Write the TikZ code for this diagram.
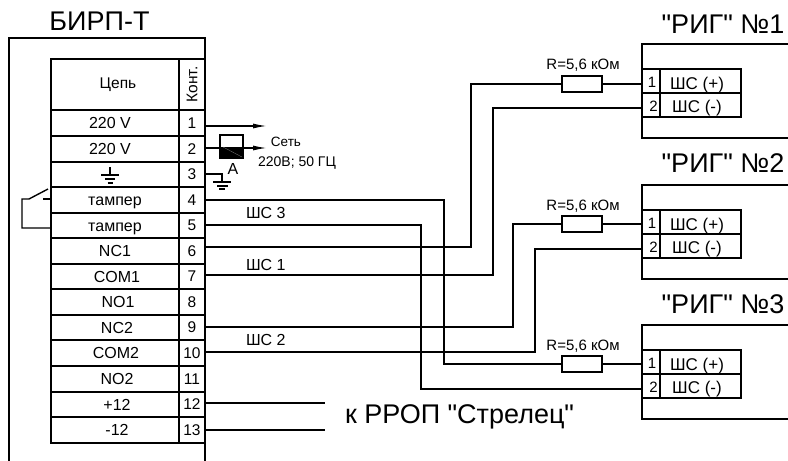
\documentclass[tikz,border=0pt]{standalone}
\usepackage{fontspec}
\setmainfont[Ligatures=TeXOff]{Liberation Sans}
\usetikzlibrary{arrows.meta}
\newcommand{\fs}[1]{\fontsize{#1}{#1}\selectfont}
\tikzset{
  x=1pt,y=-1pt,
  wire/.style={draw=black,line width=1.4pt,line join=miter},
  frame/.style={draw=black,line width=1.5pt},
  tbl/.style={draw=black,line width=1.9pt,inner sep=0pt,outer sep=0pt},
  txt/.style={inner sep=0pt,outer sep=0pt,text=black,anchor=base},
  rowbox/.style={tbl,minimum width=128pt,minimum height=25.6pt},
  pinbox/.style={tbl,minimum width=26pt,minimum height=25.6pt,font=\fs{15.5}},
  resistor/.style={draw=black,line width=1.6pt,fill=white,minimum width=40pt,minimum height=16pt,inner sep=0pt,outer sep=0pt},
  rigcell/.style={draw=black,line width=1.7pt,inner sep=0pt,outer sep=0pt,minimum height=24pt},
  title/.style={txt,font=\fs{27}},
  small/.style={txt,font=\fs{15}},
  arrowwire/.style={wire,-{Latex[length=14pt,width=5pt]}},
}
\begin{document}
\begin{tikzpicture}
\useasboundingbox (0,0) rectangle (788,461);
% outer block
\draw[frame] (9,461) -- (9,38) -- (205,38) -- (205,461);
\node[title] (tb) at (99.5,30) {БИРП-Т};
% table header
\node[tbl,minimum width=128pt,minimum height=51pt] (hc) at (115,84.5) {};
\node[txt,font=\fs{15.5}] (hct) at (118,88) {Цепь};
\node[tbl,minimum width=26pt,minimum height=51pt] (hk) at (192,84.5) {\rotatebox{90}{\fs{15.5}Конт.}};
% rows
\foreach \n/\y/\t/\lx in {1/123/220 V/110,2/149/220 V/110,3/174.5//110,4/200/тампер/115,5/225.5/тампер/115,6/251/NC1/115,7/276.5/COM1/117,8/302/NO1/118,9/327.5/NC2/117,10/353/COM2/116,11/379/NO2/117,12/404.5/+12/117,13/430/-12/117}{
  \node[rowbox] (r\n) at (115,\y) {};
  \node[pinbox] (p\n) at (192,\y) {\n};
  \node[txt,font=\fs{16}] (l\n) at (\lx,\y+5.5) {\t};
}
% ground in row 3
\coordinate (g0) at (110,167);
\coordinate (g1) at (110,175);
\draw[wire] (g0) -- (g1);
\draw[wire] (101,175) -- (119,175);
\draw[wire,line width=1.6pt] (105,179) -- (115,179);
\draw[wire,line width=1.6pt] (107.5,183) -- (112.5,183);
% tamper
\coordinate (t4) at (51,199);
\coordinate (t5) at (51,228);
\coordinate (sw) at (29,199);
\draw[wire] (t4) -- (43,199);
\draw[wire] (48,189) -- (sw) -- (22,199) -- (22,228) -- (t5);
% mains
\coordinate (w1) at (205,126);
\coordinate (w2) at (205,148);
\coordinate (w3) at (205,174);
\coordinate (e1) at (267,126);
\coordinate (e2) at (267,148);
\node[draw=black,line width=1.5pt,fill=white,minimum width=23pt,minimum height=23pt,inner sep=0pt,outer sep=0pt] (fuse) at (231.5,146.5) {};
\fill[black] (220,147) rectangle (243,158);
\draw[gray,line width=0.3pt] (223,147) -- (242,157);
\draw[arrowwire] (w1) -- (e1);
\draw[wire] (w2) -- (fuse.west |- w2);
\draw[arrowwire] (fuse.east |- w2) -- (e2);
\draw[wire] (w3) -- (222,174) -- (222,182);
\draw[wire] (213,182) -- (231,182);
\draw[wire] (217,186) -- (228,186);
\draw[wire] (219,189) -- (225,189);
\node[txt,font=\fs{16}] (la) at (233,174) {А};
\node[txt,font=\fs{13.5}] (ls1) at (286,146.5) {Сеть};
\node[txt,font=\fs{14}] (ls2) at (297,166.5) {220В; 50 ГЦ};
% RIG blocks
\foreach \k/\top/\tl in {1/44/33,2/185/172.5,3/325/313}{
  \node[title] (tr\k) at (723,\tl) {"РИГ" №\k};
  \draw[frame] (788,\top) -- (642,\top) -- (642,\top+94) -- (788,\top+94);
  \node[rigcell,minimum width=18pt] (a\k) at (651,\top+37) {};
  \node[rigcell,minimum width=81pt] (b\k) at (700.5,\top+37) {};
  \node[rigcell,minimum width=18pt] (c\k) at (651,\top+61) {};
  \node[rigcell,minimum width=81pt] (d\k) at (700.5,\top+61) {};
  \node[txt,font=\fs{15}] (na\k) at (652,\top+43.5) {1};
  \node[txt,font=\fs{15}] (nc\k) at (653.5,\top+67.5) {2};
  \node[txt,font=\fs{17}] (sa\k) at (697,\top+45.5) {ШС (+)};
  \node[txt,font=\fs{17}] (sc\k) at (697,\top+68) {ШС (-)};
  \coordinate (ia\k) at (642,\top+40);
  \coordinate (ic\k) at (642,\top+64);
}
% resistors
\node[resistor] (R1) at (582,84) {};
\node[resistor] (R2) at (582,224) {};
\node[resistor] (R3) at (582,364) {};
\node[small] (v1) at (583,69) {R=5,6 кОм};
\node[small] (v2) at (583,210) {R=5,6 кОм};
\node[small] (v3) at (583,350.5) {R=5,6 кОм};
% signal wires
\coordinate (w4) at (205,200);
\coordinate (w5) at (205,225);
\coordinate (w6) at (205,247);
\coordinate (w7) at (205,275);
\coordinate (w9) at (205,327);
\coordinate (w10) at (205,352);
\coordinate (w12) at (205,403);
\coordinate (w13) at (205,430);
\coordinate (e12) at (325,403);
\coordinate (e13) at (325,430);
\draw[wire] (w6) -- (471,247) -- (471,84) -- (R1.west);
\draw[wire] (R1.east) -- (ia1 |- R1.east);
\draw[wire] (w7) -- (493,275) -- (493,108) -- (ic1 |- 0,108);
\draw[wire] (w9) -- (513,327) -- (513,224) -- (R2.west);
\draw[wire] (R2.east) -- (ia2 |- R2.east);
\draw[wire] (w10) -- (535,352) -- (535,249) -- (ic2 |- 0,249);
\draw[wire] (w4) -- (444,200) -- (444,364) -- (R3.west);
\draw[wire] (R3.east) -- (ia3 |- R3.east);
\draw[wire] (w5) -- (421,225) -- (421,389) -- (ic3 |- 0,389);
\draw[wire] (w12) -- (e12);
\draw[wire] (w13) -- (e13);
\node[txt,font=\fs{16},anchor=base west] (s3) at (246,218) {ШС 3};
\node[txt,font=\fs{16},anchor=base west] (s1) at (246,270.5) {ШС 1};
\node[txt,font=\fs{16},anchor=base west] (s2) at (246,345.5) {ШС 2};
\node[title,anchor=base west] (kr) at (345,423) {к РРОП "Стрелец"};
\end{tikzpicture}
\end{document}
